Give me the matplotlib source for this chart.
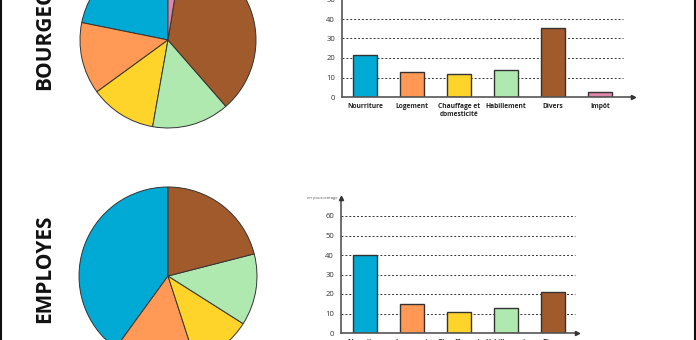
import numpy as np
import matplotlib
matplotlib.use("Agg")
import matplotlib.pyplot as plt
from matplotlib.lines import Line2D

plt.rcParams['font.family'] = ['Open Sans', 'DejaVu Sans']

# data
cats_b = ["Nourriture", "Logement", "Chauffage et\ndomesticité", "Habillement", "Divers", "Impôt"]
vals_b = [21.5, 13, 12, 14, 35.5, 2.5]
cats_e = ["Nourriture", "Logement", "Chauffage et\ndomesticité", "Habillement", "Divers"]
vals_e = [40, 15, 11, 13, 21]
colors = ["#00aad4", "#ff9955", "#ffd42a", "#afe9af", "#a05a2c", "#de87aa"]
yticks = [0, 10, 20, 30, 40, 50, 60]

W, H = 696, 340
fig = plt.figure(figsize=(W / 100, H / 100), dpi=100)


def box(x0, y0, x1, y1):
    # pixel box (top-left origin) -> figure fraction rect
    return [x0 / W, 1 - y1 / H, (x1 - x0) / W, (y1 - y0) / H]


def pie(cx, cy, r, vals, cols):
    ax = fig.add_axes(box(cx - r, cy - r, cx + r, cy + r))
    ax.pie(vals, colors=cols, startangle=90, counterclock=True,
           wedgeprops=dict(edgecolor="#333333", linewidth=0.7))
    ax.set_xlim(-1, 1)
    ax.set_ylim(-1, 1)
    ax.set_aspect("auto")
    ax.axis("off")


def bars(xaxis_px, y0_px, vals, cats, cols, x_end_px, grid_end_px, top_px,
         show_top=True):
    x_first, step, unit = 365, 47, 1.95
    xmin = (xaxis_px - x_first) / step
    xmax = (x_end_px + 10 - x_first) / step
    ymax = (y0_px - top_px) / unit
    ax = fig.add_axes(box(xaxis_px, top_px, x_end_px + 10, y0_px))
    ax.set_xlim(xmin, xmax)
    ax.set_ylim(0, ymax)
    x = np.arange(len(vals))
    gx = (grid_end_px - x_first) / step
    glines = [t for t in yticks[1:] if t < ymax]
    if not show_top:
        # the top line is partly hidden in the reference
        ax.hlines([t for t in glines if t < 50], xmin, gx, colors="#333333",
                  linestyles=(0, (2, 2)), linewidth=0.7, zorder=1)
        ax.hlines([50], (582 - x_first) / step, gx, colors="#777777",
                  linestyles=(0, (2, 2)), linewidth=0.7, zorder=1)
    else:
        ax.hlines(glines, xmin, gx, colors="#333333",
                  linestyles=(0, (2, 2)), linewidth=0.7, zorder=1)
    ax.bar(x, vals, 0.5, color=cols[:len(vals)], edgecolor="#333333",
           linewidth=1.0, zorder=3)
    for s in ["top", "right", "bottom", "left"]:
        ax.spines[s].set_visible(False)
    xe = (x_end_px - x_first) / step
    ax.plot([xmin, xe], [0, 0], color="#555555", lw=1.2, clip_on=False, zorder=4)
    ax.plot([xe], [0], marker=">", color="#333333", ms=3, clip_on=False, zorder=4)
    ax.plot([xmin, xmin], [0, ymax - 1.5], color="#555555", lw=1.2, clip_on=False, zorder=4)
    ax.plot([xmin], [ymax - 1.5], marker="^", color="#333333", ms=3, clip_on=False, zorder=4)
    if show_top:
        ax.set_yticks([t for t in yticks if t < ymax - 3])
        ax.text(xmin - 0.08, ymax - 1.5, "en pourcentage", fontsize=3, color="#555555",
                ha="right", va="center")
    else:
        ax.set_yticks([t for t in yticks if t <= 50])
    ax.tick_params(axis="y", length=0, pad=5, labelsize=5.5, labelcolor="#333333")
    ax.set_xticks(x)
    ax.set_xticklabels(cats, fontsize=4.8, fontweight="bold", color="#222222",
                       linespacing=1.3)
    ax.tick_params(axis="x", length=0, pad=4)
    ax.patch.set_alpha(0)
    return ax


pie(168, 40, 88, vals_b, colors)
pie(168, 276, 89, vals_e, colors)

bars(342, 97, vals_b, cats_b, colors, 633, 623, -45, show_top=False)
bars(341, 333, vals_e, cats_e, colors, 577, 575, 195)

fig.text(45 / W, 1 - 90 / H, "BOURGEOIS", rotation=90, ha="center", va="bottom",
         fontsize=15, fontweight="bold", color="#111111")
fig.text(45 / W, 1 - 323 / H, "EMPLOYES", rotation=90, ha="center", va="bottom",
         fontsize=15, fontweight="bold", color="#111111")

fig.add_artist(Line2D([1 / W, 1 / W], [0, 1], color="#111111", lw=1.5))
fig.add_artist(Line2D([695 / W, 695 / W], [0, 1], color="#111111", lw=1.5))

fig.savefig("out.png", dpi=100)
